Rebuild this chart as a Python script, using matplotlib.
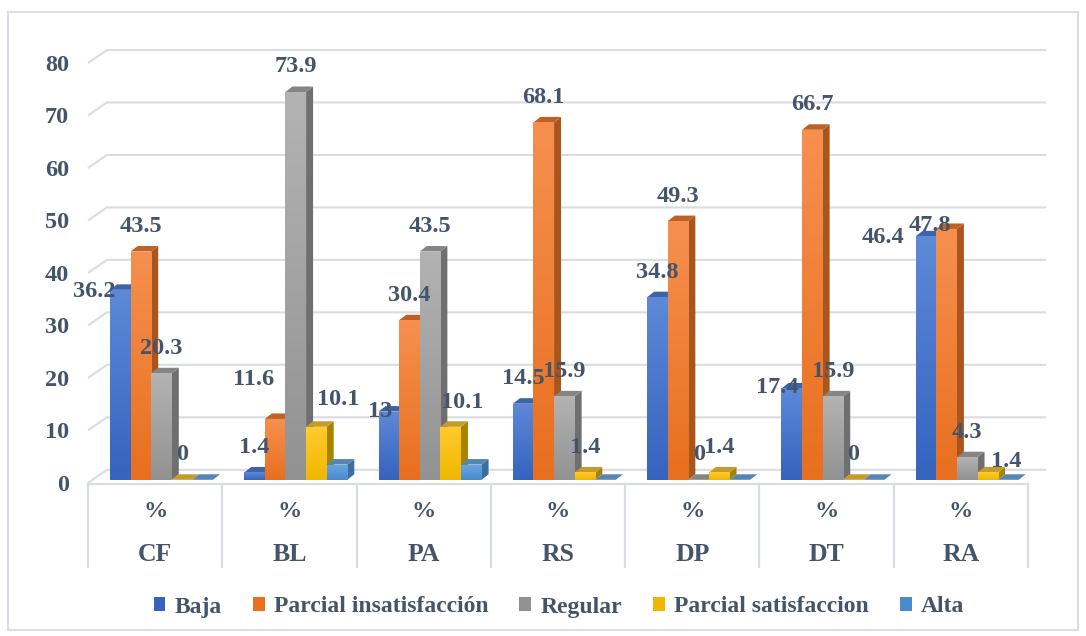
import numpy as np
import matplotlib
matplotlib.use("Agg")
import matplotlib.pyplot as plt
from matplotlib.patches import Polygon, Patch, Rectangle
from matplotlib.colors import LinearSegmentedColormap
from matplotlib.transforms import ScaledTranslation

# ---- data -------------------------------------------------------------
categories = ["CF", "BL", "PA", "RS", "DP", "DT", "RA"]
series = ["Baja", "Parcial insatisfacción", "Regular", "Parcial satisfaccion", "Alta"]
baja = [36.2, 1.4, 13, 14.5, 34.8, 17.4, 46.4]
parcial_insat = [43.5, 11.6, 30.4, 68.1, 49.3, 66.7, 47.8]
regular = [20.3, 73.9, 43.5, 15.9, 0, 15.9, 4.3]
parcial_sat = [0, 10.1, 10.1, 1.4, 1.4, 0, 1.4]
alta = [0, 2.9, 2.9, 0, 0, 0, 0]
yticks = list(range(0, 90, 10))

values = [baja, parcial_insat, regular, parcial_sat, alta]
show_labels = [True, True, True, True, False]

# ---- styling ----------------------------------------------------------
W, H = 1086, 636
TEXT = "#44546A"
GRID = "#D9DCE2"
FONT = dict(family="Liberation Serif", weight="bold", size=17.5, color=TEXT)
CAT_FONT = dict(FONT, size=18.5)

# (front top, front bottom, side, top) colours per series
palette = [
    ("#5D89D8", "#3563BE", "#2E5597", "#3D63A8"),
    ("#F6904F", "#E86F1E", "#A9561E", "#C06026"),
    ("#B3B3B3", "#929292", "#6F6F6F", "#858585"),
    ("#FFCB2E", "#F0B700", "#A88300", "#C79A2A"),
    ("#67A8E2", "#4A8BCB", "#3C6F9E", "#5585B2"),
]

# label nudges in pixels (dx right, dy down) relative to the default spot
label_nudge = {
    ("CF", 0): (-26, 27),
    ("BL", 1): (-22, -14),
    ("BL", 3): (22, -2),
    ("PA", 0): (-9, 25),
    ("PA", 3): (12, 1),
    ("DT", 0): (-14, 24),
    ("RA", 0): (-43, 26),
    ("RA", 1): (-17, 22),
    ("RA", 3): (18, 14),
}

fig = plt.figure(figsize=(W / 100, H / 100), dpi=100)
fig.patch.set_facecolor("white")
ax = fig.add_axes([88 / W, (H - 569) / H, 940 / W, 530 / H])
ax.set_xlim(-0.5, 6.5)
ax.set_ylim(-17, 84)
for s in ax.spines.values():
    s.set_visible(False)
ax.set_facecolor("none")

PX_X = 940 / 7.0
PX_Y = 530 / 101.0


def px_dx(p):
    return p / PX_X


def px_dy(p):
    return p / PX_Y


# back wall gridlines with the short diagonal along the left side wall
xb0 = -0.5 + px_dx(19)
xb1 = -0.5 + px_dx(958)
for v in yticks:
    ax.plot([-0.5, xb0, xb1], [v - px_dy(3), v + px_dy(10), v + px_dy(10)],
            color=GRID, lw=1.5, zorder=0, clip_on=False, solid_capstyle="butt")

# floor front edge and the category table
ax.plot([-0.5, 6.5], [-px_dy(4), -px_dy(4)], color=GRID, lw=1.6, zorder=0, clip_on=False)
for i in range(len(categories) + 1):
    ax.plot([i - 0.5, i - 0.5], [-px_dy(4), -px_dy(87)], color=GRID, lw=1.6,
            zorder=0, clip_on=False)

for g, cat in enumerate(categories):
    ax.text(g, -px_dy(32), "%", ha="center", va="center", **FONT)
    ax.text(g, -px_dy(75), cat, ha="center", va="center", **CAT_FONT)

# y axis labels
ax.set_yticks(yticks)
ax.set_yticklabels([str(t) for t in yticks])
ax.tick_params(axis="y", length=0, pad=13.5)
ax.set_xticks([])
for lbl in ax.get_yticklabels():
    lbl.set_fontfamily("Liberation Serif")
    lbl.set_fontweight("bold")
    lbl.set_fontsize(17.5)
    lbl.set_color(TEXT)
    lbl.set_transform(lbl.get_transform() + ScaledTranslation(0, -3 / 100, fig.dpi_scale_trans))

# ---- 3D-looking clustered columns ------------------------------------
bw = 20.6 / PX_X
first = -0.5 + px_dx(22) + bw / 2
ddx = px_dx(7)
ddy = px_dy(5.5)
x = np.arange(len(categories))
grad = np.linspace(0, 1, 128).reshape(-1, 1)

z = 2
for k, (name, vals) in enumerate(zip(series, values)):
    front_top, front_bot, side_c, top_c = palette[k]
    cmap = LinearSegmentedColormap.from_list(f"g{k}", [front_bot, front_top])
    bars = ax.bar(x + first + k * bw, vals, width=bw, color=front_bot,
                  linewidth=0, zorder=z + 2)
    for g, rect in enumerate(bars):
        x0 = rect.get_x()
        x1 = x0 + rect.get_width()
        h = rect.get_height()
        side = Polygon([[x1, 0], [x1 + ddx, ddy], [x1 + ddx, h + ddy], [x1, h]],
                       closed=True, fc=side_c, ec="none", zorder=z, clip_on=False)
        top = Polygon([[x0, h], [x0 + ddx, h + ddy], [x1 + ddx, h + ddy], [x1, h]],
                      closed=True, fc=top_c, ec="none", zorder=z + 1, clip_on=False)
        ax.add_patch(side)
        ax.add_patch(top)
        if h > 0:
            im = ax.imshow(grad, cmap=cmap, origin="lower", aspect="auto",
                           extent=[x0, x1, 0, h], zorder=z + 3, interpolation="bilinear")
            im.set_clip_path(rect)
        if show_labels[k]:
            dxp, dyp = label_nudge.get((categories[g], k), (0, 0))
            ax.text((x0 + x1) / 2 + px_dx(dxp), h + px_dy(25) - px_dy(dyp),
                    f"{vals[g]:g}", ha="center", va="center", zorder=50, **FONT)
    z += 5

ax.set_xlim(-0.5, 6.5)
ax.set_ylim(-17, 84)

# ---- legend ----------------------------------------------------------
handles = [Patch(facecolor=palette[k][1], edgecolor="none") for k in range(len(series))]
fig.legend(handles, series, loc="center", bbox_to_anchor=(559 / W, (H - 607) / H),
           ncol=5, frameon=False, handlelength=0.5, handleheight=0.5,
           handletextpad=0.4, columnspacing=1.3, labelcolor=TEXT,
           prop=dict(family="Liberation Serif", weight="bold", size=17))

# outer chart border
fig.add_artist(Rectangle((8 / W, 6 / H), 1070 / W, 618 / H, transform=fig.transFigure,
                         fill=False, ec="#D9DEE6", lw=1.5))

fig.savefig("out.png", dpi=100, facecolor="white")
